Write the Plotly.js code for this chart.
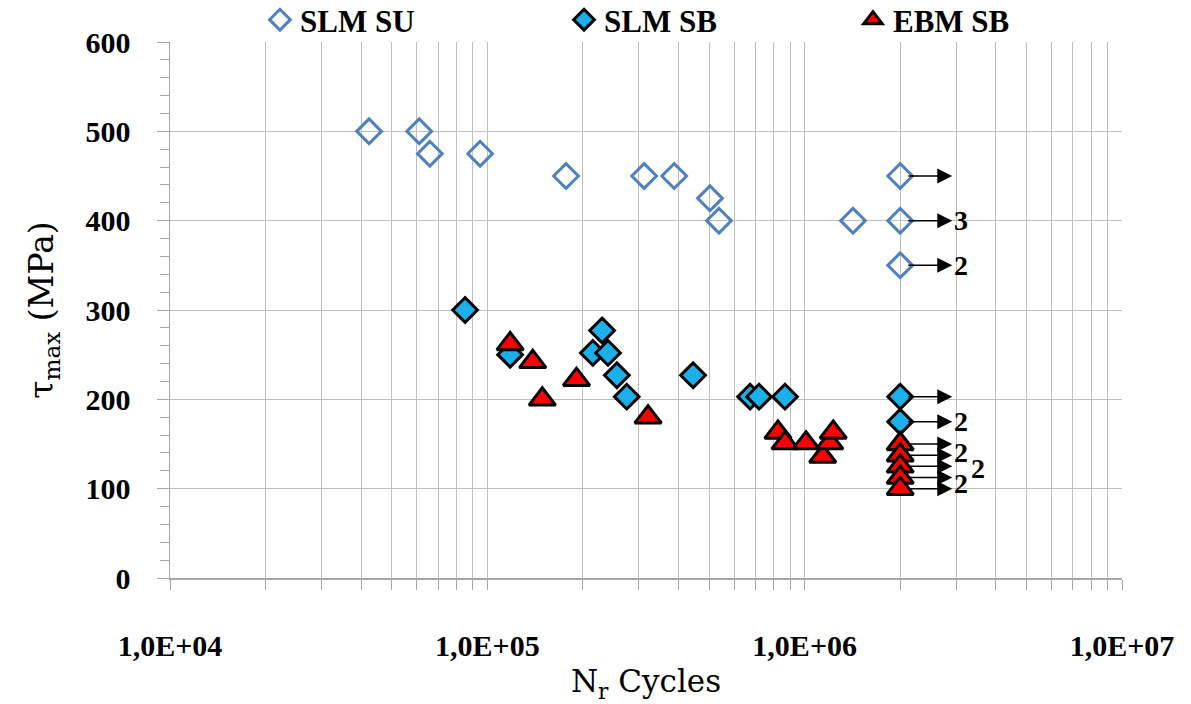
<!DOCTYPE html>
<html>
<head>
<meta charset="utf-8">
<script src="https://cdn.plot.ly/plotly-3.0.1.min.js"></script>
<style>html,body{margin:0;padding:0;background:#fff;}#chart{width:1191px;height:704px;}</style>
</head>
<body>
<div id="chart"></div>
<script>
// ---- data ----
const suCycles = [42400, 61000, 65900, 94900, 177000, 312000, 388000, 503000, 537000, 1420000, 2000000, 2000000, 2000000];
const suStress = [500, 500, 475, 475, 450, 450, 450, 425, 400, 400, 450, 400, 350];

const sbCycles = [85100, 118000, 230000, 215000, 240000, 256000, 275000, 445000, 673000, 718000, 867000, 2000000, 2000000];
const sbStress = [300, 250, 277, 252, 252, 227, 203, 227, 203, 203, 203, 203, 175];

const ebmCycles = [118000, 139000, 149000, 191000, 321000, 824000, 867000, 1010000, 1140000, 1200000, 1230000, 2000000, 2000000, 2000000, 2000000, 2000000];
const ebmStress = [262, 242, 200, 222, 180, 163, 151, 151, 136, 151, 163, 150, 137.5, 125, 112.5, 100];

// run-outs (arrows) and multiplicity labels
const runoutCycles = 2000000;
const runoutStress = [450, 400, 350, 203, 175, 150, 137.5, 125, 112.5, 100];
const runoutLabels = ['', '3', '2', '', '2', '', '2', '2', '2', ''];

const xTickDecades = [1e4, 1e5, 1e6, 1e7];
const xTickText = ['1,0E+04', '1,0E+05', '1,0E+06', '1,0E+07'];

// ---- styles ----
const SERIF = 'Liberation Serif, serif';
const TITLEFONT = 'DejaVu Serif, Liberation Serif, serif';
const GRID = '#bfbfbf';
const AXIS = '#a6a6a6';
const labelShift = {6: [0, 3], 7: [17, -2], 8: [0, -6]};

// minor log positions as ticks (labels only at decades)
const xTickVals = [], xTickLabels = [];
for (let d = 0; d < xTickDecades.length; d++) {
  const base = xTickDecades[d];
  xTickVals.push(base); xTickLabels.push(xTickText[d]);
  if (d < xTickDecades.length - 1) {
    for (let m = 2; m <= 9; m++) { xTickVals.push(base * m); xTickLabels.push(''); }
  }
}

const traces = [
  {x: suCycles, y: suStress, name: 'SLM SU', type: 'scatter', mode: 'markers', legend: 'legend',
   marker: {symbol: 'diamond-open', size: 19, color: '#4f81bd', line: {width: 3, color: '#4f81bd'}}},
  {x: sbCycles, y: sbStress, name: 'SLM SB', type: 'scatter', mode: 'markers', legend: 'legend2',
   marker: {symbol: 'diamond', size: 19, color: '#1cb0ea', line: {width: 3, color: '#000'}}},
  {x: ebmCycles, y: ebmStress, name: 'EBM SB', type: 'scatter', mode: 'markers', legend: 'legend3',
   marker: {symbol: 'triangle-up', size: 23, color: '#ff0000', line: {width: 3, color: '#000'}}}
];

const annotations = [];
const tipOffset = 0.164; // log-decades to the right of the marker
runoutStress.forEach((s, i) => {
  annotations.push({
    x: Math.log10(runoutCycles) + tipOffset, y: s, xref: 'x', yref: 'y',
    text: ' ', showarrow: true, ax: -46, ay: 0, arrowhead: 2, arrowsize: 2, arrowwidth: 1.5,
    arrowcolor: '#000', standoff: 0, startstandoff: 0, font: {size: 4}
  });
  if (runoutLabels[i]) {
    const sh = labelShift[i] || [0, 0];
    annotations.push({
      x: Math.log10(runoutCycles) + tipOffset, y: s, xref: 'x', yref: 'y',
      text: runoutLabels[i], showarrow: false, xanchor: 'left', yanchor: 'middle',
      xshift: sh[0], yshift: sh[1],
      font: {family: SERIF, size: 28, color: '#000', weight: 'bold'}
    });
  }
});

const legendFont = {family: SERIF, size: 31, color: '#000', weight: 'bold'};
const legendBase = {orientation: 'h', y: 1.041, yanchor: 'middle', xanchor: 'left',
                    font: legendFont, itemclick: false, bgcolor: 'rgba(0,0,0,0)'};

const layout = {
  width: 1191, height: 704,
  margin: {l: 170, r: 69, t: 42, b: 126, autoexpand: false},
  paper_bgcolor: '#fff', plot_bgcolor: '#fff',
  font: {family: SERIF, size: 28, color: '#000'},
  showlegend: true,
  legend: Object.assign({}, legendBase, {x: 0.0945}),
  legend2: Object.assign({}, legendBase, {x: 0.4139}),
  legend3: Object.assign({}, legendBase, {x: 0.7174}),
  xaxis: {
    type: 'log', range: [4, 7],
    tickmode: 'array', tickvals: xTickVals, ticktext: xTickLabels,
    ticks: 'outside', ticklen: 10, tickcolor: AXIS, tickwidth: 1,
    ticklabelstandoff: 30,
    showgrid: true, gridcolor: GRID, gridwidth: 1,
    showline: true, linecolor: AXIS, linewidth: 1.5, zeroline: false,
    tickfont: {family: SERIF, size: 30, color: '#000', weight: 'bold'},
    title: {text: 'N<sub>r</sub> Cycles', font: {family: TITLEFONT, size: 31, color: '#000'}, standoff: 30}
  },
  yaxis: {
    range: [0, 600], dtick: 100, tick0: 0,
    ticks: 'outside', ticklen: 12, tickcolor: AXIS, tickwidth: 1,
    ticklabelstandoff: 20,
    showgrid: true, gridcolor: GRID, gridwidth: 1,
    showline: true, linecolor: AXIS, linewidth: 1.5, zeroline: false,
    minor: {dtick: 20, ticks: 'outside', ticklen: 9, tickcolor: AXIS, showgrid: false},
    tickfont: {family: SERIF, size: 30, color: '#000', weight: 'bold'},
    title: {text: 'τ<sub>max</sub> (MPa)', font: {family: TITLEFONT, size: 33, color: '#000'}, standoff: 22}
  },
  annotations: annotations,
  hovermode: false
};

Plotly.newPlot('chart', traces, layout, {displayModeBar: false, staticPlot: true});
</script>
</body>
</html>
